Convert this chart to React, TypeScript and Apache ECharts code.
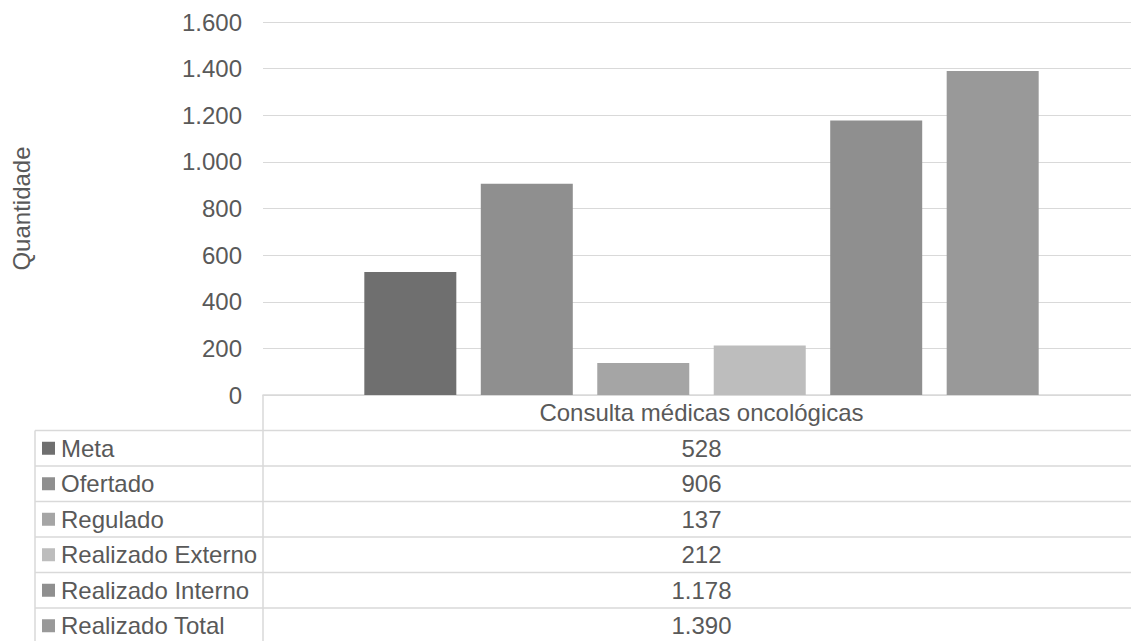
import React, { useEffect, useRef } from "react";
import * as echarts from "echarts";

const categories = ["Consulta médicas oncológicas"];
const seriesNames = ["Meta", "Ofertado", "Regulado", "Realizado Externo", "Realizado Interno", "Realizado Total"];
const seriesValues = [528, 906, 137, 212, 1178, 1390];
const seriesColors = ["#6f6f6f", "#8f8f8f", "#a5a5a5", "#bdbdbd", "#8f8f8f", "#999999"];
const yTicks = [0, 200, 400, 600, 800, 1000, 1200, 1400, 1600];

const CW = 1140;
const H = 641;
const PLOT_L = 263;
const PLOT_R = 1140;
const PLOT_T = 22;
const AXIS_Y = 395;
const ROW_H = 35.5;
const TABLE_L = 35;
const FONT = "Liberation Sans, Arial, sans-serif";
const TXT = "#595959";
const LINE = "#d9d9d9";

const fmt = (v: number) => String(v).replace(/\B(?=(\d{3})+(?!\d))/g, ".");

export default function App() {
  const ref = useRef<HTMLDivElement>(null);
  useEffect(() => {
    if (!ref.current) return;
    const chart = echarts.init(ref.current, undefined, { renderer: "svg" });
    const graphic: any[] = [];
    const n = seriesNames.length;
    for (let i = 1; i <= n + 1; i++) {
      const y = AXIS_Y + i * ROW_H;
      graphic.push({
        type: "line",
        shape: { x1: TABLE_L, y1: y, x2: CW, y2: y },
        style: { stroke: LINE, lineWidth: 1.5 },
        silent: true,
      });
    }
    graphic.push({
      type: "line",
      shape: { x1: TABLE_L, y1: AXIS_Y + ROW_H, x2: TABLE_L, y2: H + 5 },
      style: { stroke: LINE, lineWidth: 1.5 },
      silent: true,
    });
    graphic.push({
      type: "line",
      shape: { x1: PLOT_L, y1: AXIS_Y, x2: PLOT_L, y2: H + 5 },
      style: { stroke: LINE, lineWidth: 1.5 },
      silent: true,
    });
    const midX = (PLOT_L + PLOT_R) / 2;
    seriesNames.forEach((name, i) => {
      const cy = AXIS_Y + (i + 1) * ROW_H + ROW_H / 2;
      graphic.push({
        type: "rect",
        shape: { x: 42, y: cy - 6.5, width: 13, height: 13 },
        style: { fill: seriesColors[i] },
        silent: true,
      });
      graphic.push({
        type: "text",
        x: 61,
        y: cy,
        style: {
          text: name,
          fill: TXT,
          font: `24px ${FONT}`,
          align: "left",
          verticalAlign: "middle",
        },
        silent: true,
      });
      graphic.push({
        type: "text",
        x: midX,
        y: cy,
        style: {
          text: fmt(seriesValues[i]),
          fill: TXT,
          font: `24px ${FONT}`,
          align: "center",
          verticalAlign: "middle",
        },
        silent: true,
      });
    });

    chart.setOption({
      animation: false,
      grid: { left: PLOT_L, right: CW - PLOT_R, top: PLOT_T, bottom: H - AXIS_Y, containLabel: false },
      xAxis: {
        type: "category",
        data: categories,
        axisLine: { show: true, lineStyle: { color: LINE, width: 1.5 } },
        axisTick: { show: false },
        axisLabel: {
          color: TXT,
          fontSize: 24,
          fontFamily: FONT,
          margin: 5,
          lineHeight: 24,
        },
      },
      yAxis: {
        type: "value",
        min: yTicks[0],
        max: yTicks[yTicks.length - 1],
        interval: 200,
        name: "Quantidade",
        nameLocation: "middle",
        nameRotate: 90,
        nameGap: 230,
        nameTextStyle: { color: TXT, fontSize: 24, fontFamily: FONT },
        axisLine: { show: false },
        axisTick: { show: false },
        splitLine: { lineStyle: { color: LINE, width: 1 } },
        axisLabel: {
          color: TXT,
          fontSize: 24,
          fontFamily: FONT,
          margin: 21,
          formatter: (v: number) => fmt(v),
        },
      },
      series: seriesNames.map((name, i) => ({
        name,
        type: "bar",
        data: [seriesValues[i]],
        barWidth: 92,
        barGap: "26.6%",
        itemStyle: { color: seriesColors[i] },
      })),
      graphic,
    });
    return () => chart.dispose();
  }, []);
  return (
    <div
      ref={ref}
      style={{ position: "fixed", left: 0, top: 0, width: CW, height: H, background: "#fff" }}
    />
  );
}
